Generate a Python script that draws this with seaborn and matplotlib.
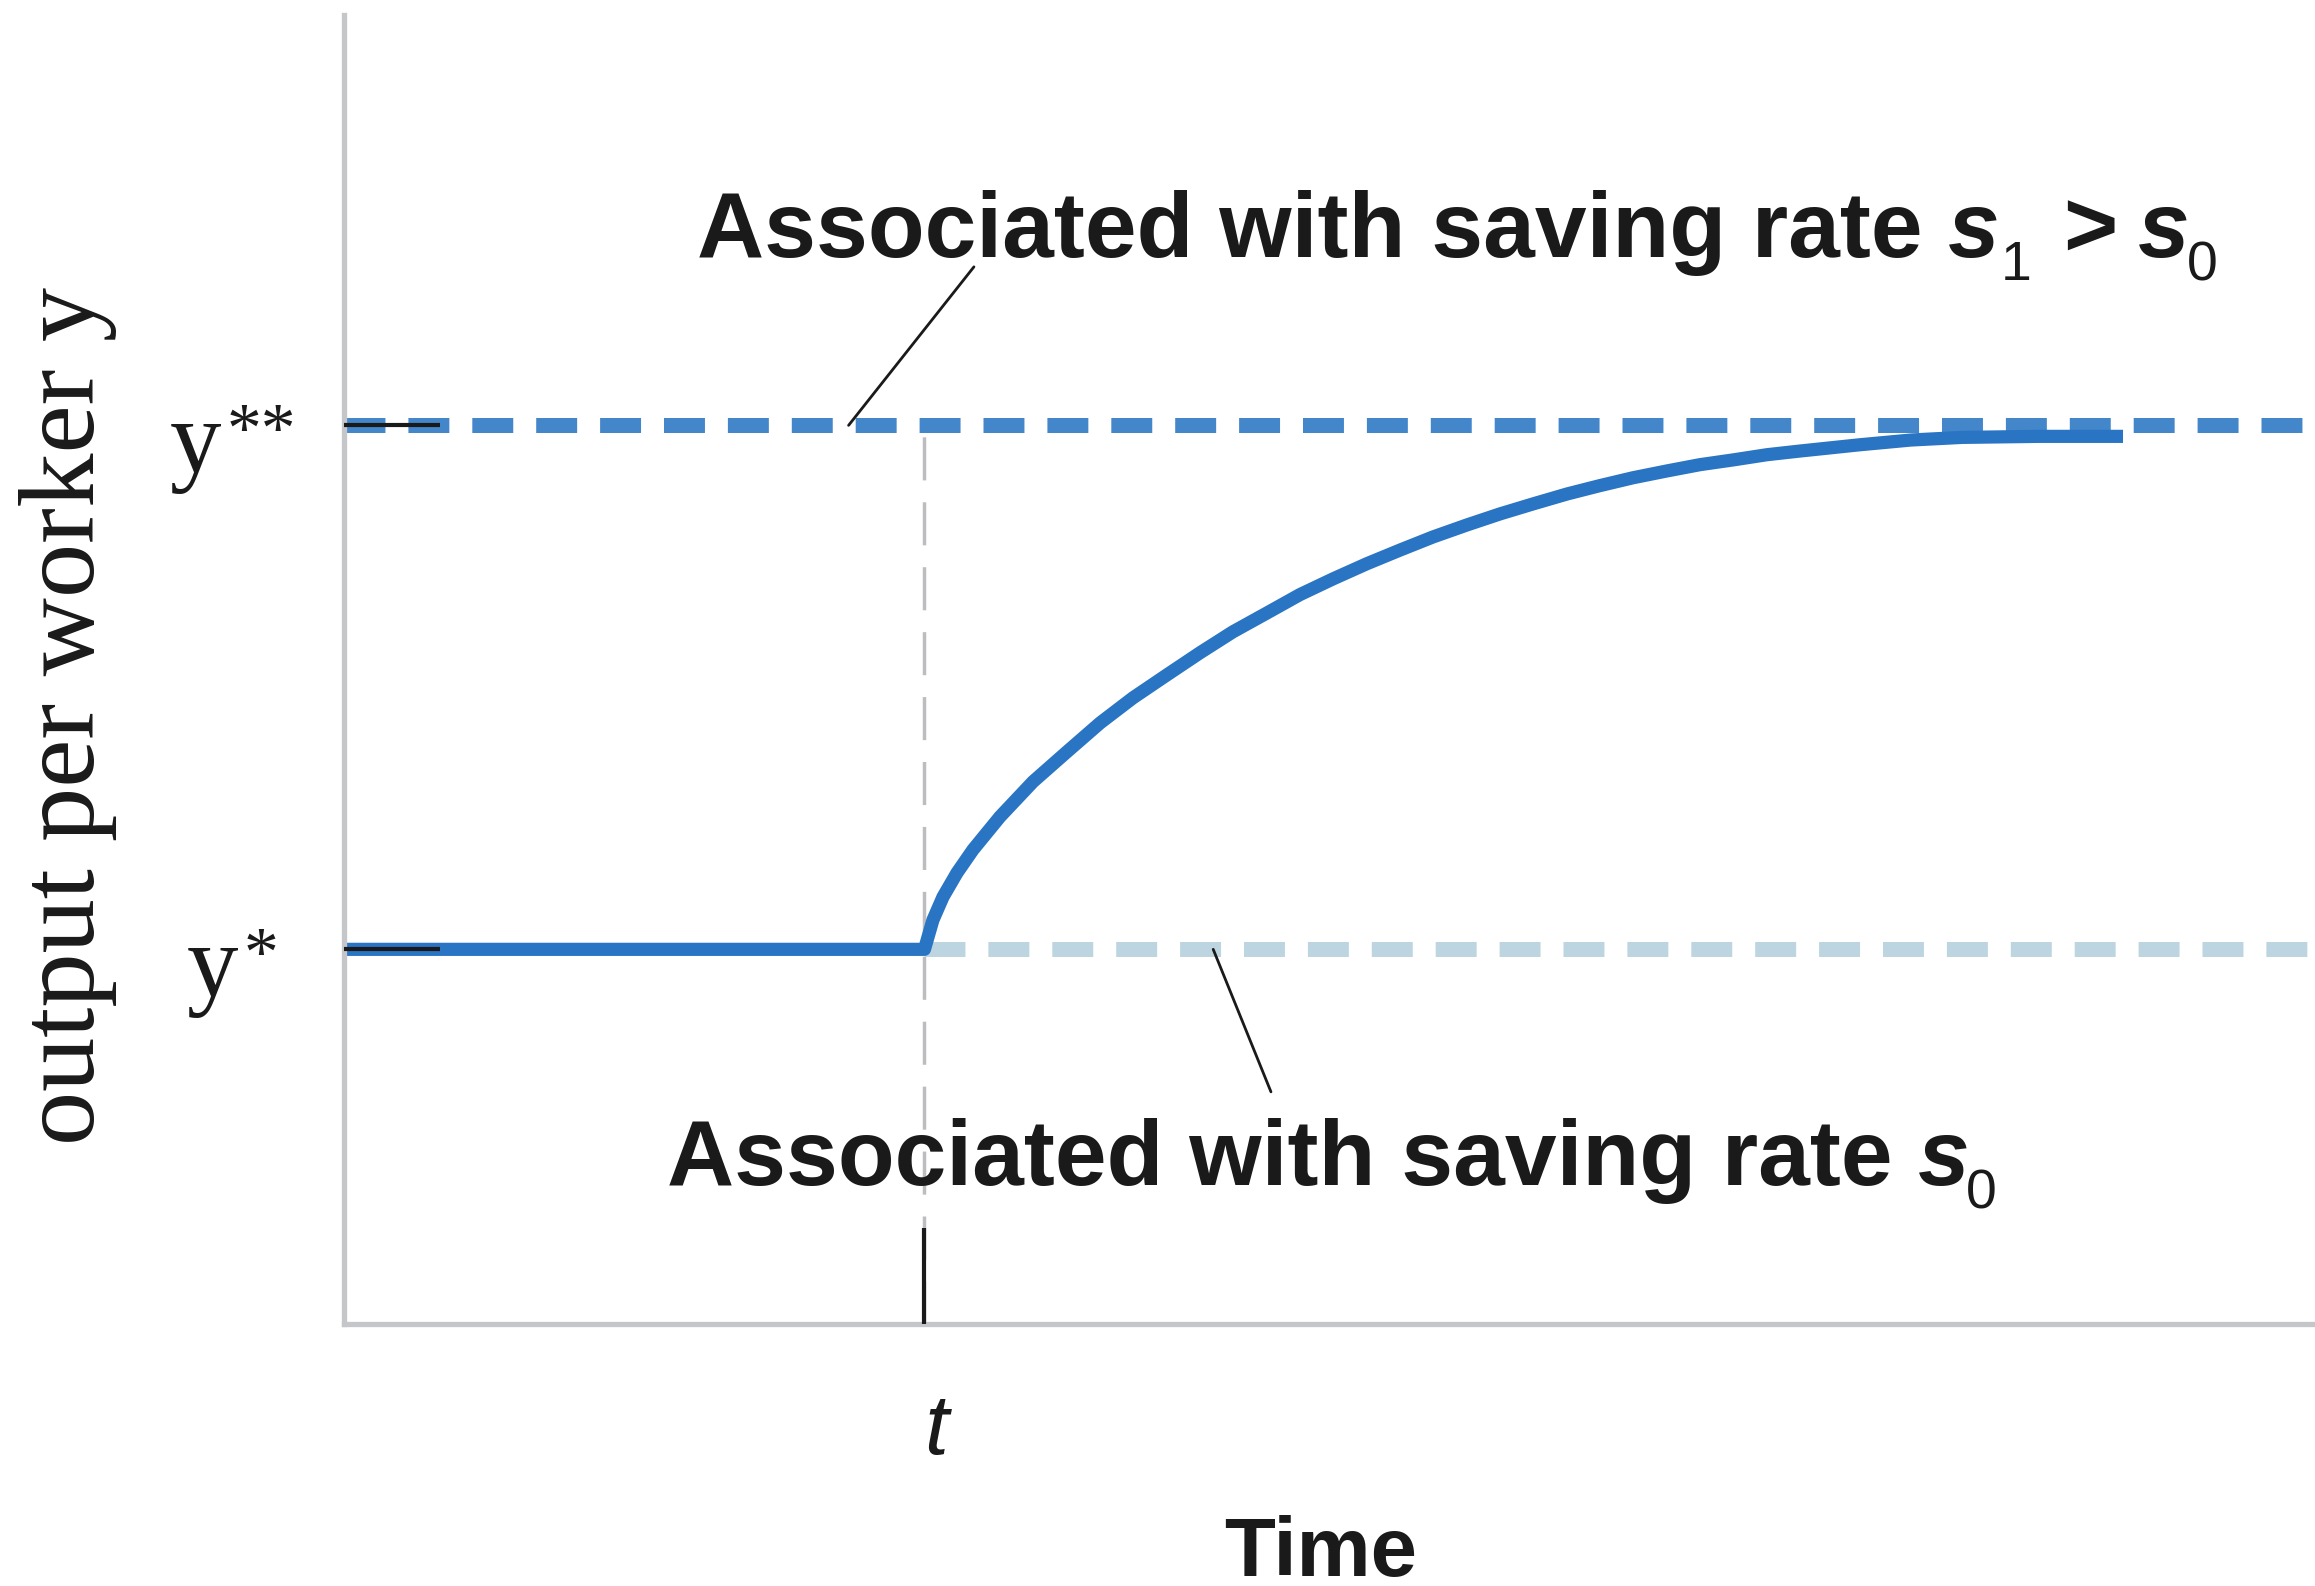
import matplotlib
matplotlib.use("Agg")
import matplotlib.pyplot as plt
import matplotlib.transforms as mtransforms
import pandas as pd
import seaborn as sns

# output per worker over time, saving rate rises at t
time = [0, 29.45, 29.88, 30.39, 31.10, 31.91, 33.28, 34.96, 36.68, 38.36,
        40.03, 41.76, 43.43, 45.10, 46.83, 48.50, 50.18, 51.90, 53.58,
        55.25, 56.98, 58.65, 60.32, 62.05, 63.72, 65.40, 67.12, 68.80,
        70.47, 72.20, 73.87, 76.92, 79.50, 82.09, 86.05, 90.26]
output = [1.0, 1.0, 1.056, 1.100, 1.146, 1.190, 1.253, 1.320, 1.377, 1.432,
          1.480, 1.524, 1.566, 1.606, 1.642, 1.677, 1.707, 1.736, 1.762,
          1.787, 1.810, 1.831, 1.850, 1.869, 1.885, 1.900, 1.913, 1.925,
          1.934, 1.944, 1.951, 1.963, 1.972, 1.977, 1.979, 1.979]

t_shock = 29.45
y_star = 1.0
y_star_star = 2.0

level_ticks = [y_star, y_star_star]
level_labels = ["y*", "y**"]
time_ticks = [t_shock]
time_labels = ["t"]

CURVE = "#2a74c4"
HIGH = "#4486ca"
LOW = "#bcd5e0"
GUIDE = "#bdbdc0"
SPINE = "#c5c6ca"
INK = "#1a1a1a"

sns.set_theme(style="white")
plt.rcParams["font.family"] = ["Liberation Sans", "DejaVu Sans"]
SERIF = ["Liberation Serif", "DejaVu Serif"]

df = pd.DataFrame({"time": time, "output": output})

fig = plt.figure(figsize=(23.15, 15.86), dpi=100)
ax = fig.add_axes([0.1486, 0.1652, 0.8514, 0.8253])
ax.set_xlim(0, 100)
ax.set_ylim(0.285, 2.783)
ax.set_axisbelow(False)

# reference levels
ax.axhline(y_star_star, color=HIGH, lw=10.8, dashes=(2.73, 1.53), zorder=2.1)
ax.plot([t_shock, 100], [y_star, y_star], color=LOW, lw=10.8,
        dashes=(2.73, 1.53), zorder=2.1)
ax.plot([t_shock, t_shock], [0.285, y_star_star], color=GUIDE, lw=2.5,
        dashes=(12.4, 6.3), zorder=2.0)

sns.lineplot(data=df, x="time", y="output", ax=ax, color=CURVE,
             linewidth=9.5, sort=False, estimator=None,
             solid_joinstyle="round", solid_capstyle="butt", zorder=2.3)

# axes styling
for side in ["top", "right"]:
    ax.spines[side].set_visible(False)
for side in ["left", "bottom"]:
    ax.spines[side].set_color(SPINE)
    ax.spines[side].set_linewidth(3.8)

ax.set_xticks(time_ticks, labels=[])
ax.set_yticks(level_ticks, labels=[])
ax.tick_params(axis="both", direction="in", length=69, width=3,
               color=INK, left=True, bottom=True)

# t label under the tick
t_tr = mtransforms.offset_copy(ax.get_xaxis_transform(), fig=fig,
                               x=12, y=-68, units="dots")
for val, lab in zip(time_ticks, time_labels):
    ax.text(val, 0, lab, transform=t_tr, ha="center", va="top",
            fontsize=62, fontstyle="italic", color=INK)

# y* / y** labels: letter plus smaller stars
for val, lab in zip(level_ticks, level_labels):
    n = len(lab) - 1
    left = -111.5 - (57 + 34 * n) / 2
    tr_y = mtransforms.offset_copy(ax.get_yaxis_transform(), fig=fig,
                                   x=left, y=-47, units="dots")
    ax.text(0, val, lab[0], transform=tr_y, ha="left", va="baseline",
            fontsize=74, family=SERIF, color=INK)
    tr_s = mtransforms.offset_copy(ax.get_yaxis_transform(), fig=fig,
                                   x=left + 57, y=-26, units="dots")
    ax.text(0, val, lab[1:], transform=tr_s, ha="left", va="baseline",
            fontsize=50, family=SERIF, color=INK)

ax.set_xlabel("Time", fontsize=60, fontweight="bold", color=INK)
ax.xaxis.set_label_coords(0.4957, -0.146)
ax.set_ylabel("output per worker y", fontsize=78, family=SERIF, color=INK)
ax.yaxis.set_label_coords(-0.1150, 0.4645)


def rich_label(x, y, parts):
    # parts: (text, size, style, weight, gap px, baseline shift px)
    prev = None
    for text, size, style, weight, gap, dy in parts:
        kw = dict(fontsize=size, fontstyle=style, fontweight=weight, color=INK)
        if prev is None:
            prev = ax.text(x, y, text, ha="left", va="baseline", **kw)
        else:
            prev = ax.annotate(text, xy=(1, 0), xycoords=prev,
                               xytext=(gap, dy), textcoords="offset pixels",
                               ha="left", va="bottom", **kw)
    return prev


big, small = 67, 40
drop = 16.6
rich_label(17.91, 2.3216, [
    ("Associated with saving rate", big, "normal", "bold", 0, 0),
    ("s", big, "italic", "bold", 25, 0),
    ("1", small, "normal", "normal", 1, -drop),
    (">", big, "normal", "bold", 32, drop),
    ("s", big, "italic", "bold", 21, 0),
    ("0", small, "normal", "normal", -3, -drop),
])
rich_label(16.39, 0.5506, [
    ("Associated with saving rate", big, "normal", "bold", 0, 0),
    ("s", big, "italic", "bold", 25, 0),
    ("0", small, "normal", "normal", -3, -drop),
])

# leader lines to the two levels
ax.annotate("", xy=(25.6, y_star_star), xytext=(31.96, 2.3025),
            arrowprops=dict(arrowstyle="-", color=INK, lw=2.0,
                            shrinkA=0, shrinkB=0))
ax.annotate("", xy=(44.1, y_star), xytext=(47.03, 0.728),
            arrowprops=dict(arrowstyle="-", color=INK, lw=2.0,
                            shrinkA=0, shrinkB=0))

fig.savefig("out.png", dpi=100)
